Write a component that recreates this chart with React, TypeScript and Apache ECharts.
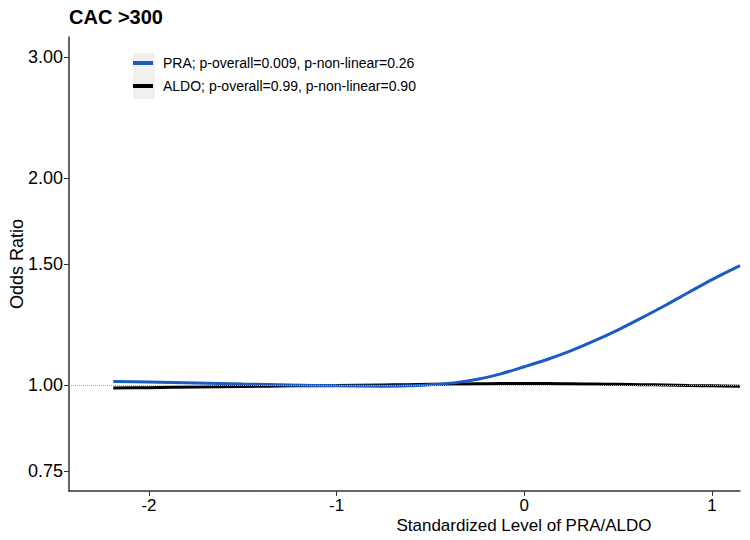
import React, { useEffect, useRef } from "react";
import * as echarts from "echarts";

const xValues = [-2.19, -2.0, -1.75, -1.5, -1.25, -1.0, -0.75, -0.625, -0.5, -0.375, -0.25, -0.125, 0, 0.125, 0.25, 0.375, 0.5, 0.625, 0.75, 0.875, 1.0, 1.149];
const praOR = [1.013, 1.011, 1.008, 1.004, 1.001, 0.998, 0.997, 0.998, 1.002, 1.008, 1.02, 1.039, 1.064, 1.091, 1.123, 1.161, 1.204, 1.253, 1.306, 1.364, 1.424, 1.492];
const aldoOR = [0.991, 0.992, 0.994, 0.996, 0.998, 0.999, 1.001, 1.002, 1.003, 1.004, 1.005, 1.006, 1.006, 1.006, 1.005, 1.004, 1.003, 1.002, 1.001, 0.999, 0.998, 0.997];
const yTicks = [0.75, 1.0, 1.5, 2.0, 3.0];
const xTicks = [-2, -1, 0, 1];
const seriesNames = [
  "PRA; p-overall=0.009, p-non-linear=0.26",
  "ALDO; p-overall=0.99, p-non-linear=0.90",
];

const FONT = "'Liberation Sans', Arial, sans-serif";

export default function App() {
  const ref = useRef<HTMLDivElement>(null);
  useEffect(() => {
    if (!ref.current) return;
    const chart = echarts.init(ref.current, undefined, { renderer: "svg" });
    const toPairs = (vals: number[]) => xValues.map((x, i) => [x, Math.log(vals[i])]);
    chart.setOption({
      animation: false,
      textStyle: { fontFamily: FONT },
      title: {
        text: "CAC >300",
        left: 69,
        top: 7,
        padding: 0,
        textStyle: { fontSize: 20, fontWeight: "bold", color: "#000", fontFamily: FONT },
      },
      legend: {
        orient: "vertical",
        left: 133,
        top: 54,
        padding: 0,
        itemWidth: 20,
        itemHeight: 4,
        itemGap: 5,
        icon: "rect",
        textStyle: { fontSize: 14, color: "#000", lineHeight: 18, fontFamily: FONT, padding: [0, 0, 0, 5] },
        data: seriesNames,
      },
      graphic: [
        {
          type: "rect",
          left: 133,
          top: 53,
          z: 0,
          shape: { width: 22, height: 46 },
          style: { fill: "#f0f0f0" },
          silent: true,
        },
        {
          type: "text",
          x: 524,
          y: 525,
          style: {
            text: "Standardized Level of PRA/ALDO",
            textAlign: "center",
            textVerticalAlign: "middle",
            fontSize: 17,
            fontFamily: FONT,
            fill: "#000",
          },
        },
      ],
      grid: { left: 69, right: 10, top: 37, bottom: 49, outerBoundsMode: "none", containLabel: false },
      xAxis: {
        type: "value",
        min: -2.426,
        max: 1.149,
        axisLine: { onZero: false, lineStyle: { color: "#333", width: 1.5 } },
        axisTick: { show: true, length: 5, lineStyle: { color: "#333" }, customValues: xTicks },
        axisLabel: { fontSize: 17, color: "#000", margin: 6, customValues: xTicks, fontFamily: FONT },
        splitLine: { show: false },
      },
      yAxis: {
        type: "value",
        min: Math.log(0.702),
        max: Math.log(3.207),
        name: "Odds Ratio",
        nameLocation: "middle",
        nameGap: 43,
        nameMoveOverlap: false,
        nameTextStyle: { fontSize: 18, color: "#000", fontFamily: FONT },
        axisLine: { show: true, onZero: false, lineStyle: { color: "#333", width: 1.5 } },
        axisTick: { show: true, length: 5, lineStyle: { color: "#333" }, customValues: yTicks.map((v) => Math.log(v)) },
        axisLabel: {
          fontSize: 18,
          color: "#000",
          margin: 6,
          customValues: yTicks.map((v) => Math.log(v)),
          formatter: (v: number) => Math.exp(v).toFixed(2),
          fontFamily: FONT,
        },
        splitLine: { show: false },
      },
      series: [
        {
          type: "line",
          name: "ref",
          data: [],
          z: 1,
          silent: true,
          markLine: {
            silent: true,
            symbol: "none",
            label: { show: false },
            lineStyle: { color: "#aaa", type: "dotted", width: 1 },
            data: [{ yAxis: 0 }],
          },
        },
        {
          type: "line",
          name: seriesNames[0],
          data: toPairs(praOR),
          smooth: 0.3,
          showSymbol: false,
          z: 3,
          color: "#1a5bc4",
          lineStyle: { color: "#1a5bc4", width: 3 },
        },
        {
          type: "line",
          name: seriesNames[1],
          data: toPairs(aldoOR),
          smooth: 0.3,
          showSymbol: false,
          z: 2,
          color: "#000",
          lineStyle: { color: "#000", width: 3 },
        },
      ],
    });
    return () => chart.dispose();
  }, []);
  return <div ref={ref} style={{ width: 750, height: 540, position: "absolute", left: 0, top: 0 }} />;
}
